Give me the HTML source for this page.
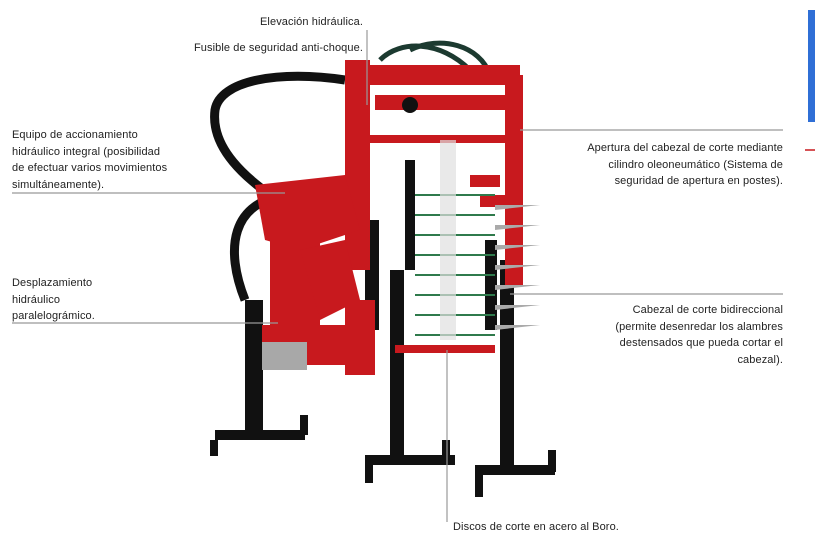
<!DOCTYPE html>
<html><head><meta charset="utf-8"><style>
body{margin:0;background:#fff;width:815px;height:556px;overflow:hidden;position:relative;font-family:"Liberation Sans",sans-serif;color:#222}
.t{position:absolute;font-size:11px;line-height:16.5px;letter-spacing:0.1px}
.r{text-align:right}
</style></head><body>
<svg width="815" height="556" style="position:absolute;left:0;top:0">
<!-- hoses -->
<path d="M345 80 C280 70 220 80 215 110 C210 150 250 180 270 195" stroke="#111" stroke-width="9" fill="none"/>
<path d="M290 195 C230 200 225 250 245 300" stroke="#111" stroke-width="9" fill="none"/>
<path d="M380 60 C400 40 440 40 470 70" stroke="#1c3a30" stroke-width="5" fill="none"/>
<path d="M410 50 C440 35 480 45 490 75" stroke="#1c3a30" stroke-width="5" fill="none"/>
<!-- stands -->
<g fill="#111">
<rect x="245" y="300" width="18" height="130"/><rect x="215" y="430" width="90" height="10"/><rect x="210" y="440" width="8" height="16"/><rect x="300" y="415" width="8" height="20"/>
<rect x="390" y="270" width="14" height="190"/><rect x="365" y="455" width="90" height="10"/><rect x="365" y="465" width="8" height="18"/><rect x="442" y="440" width="8" height="20"/>
<rect x="500" y="260" width="14" height="210"/><rect x="475" y="465" width="80" height="10"/><rect x="475" y="475" width="8" height="22"/><rect x="548" y="450" width="8" height="22"/>
<rect x="365" y="220" width="14" height="110"/><rect x="405" y="160" width="10" height="110"/><rect x="485" y="240" width="12" height="90"/>
</g>
<!-- red structure -->
<g fill="#c8191e">
<rect x="345" y="60" width="25" height="210"/>
<rect x="370" y="65" width="150" height="20"/>
<rect x="505" y="75" width="18" height="210"/>
<rect x="375" y="95" width="135" height="15"/>
<rect x="355" y="135" width="165" height="8"/>
<polygon points="255,185 345,175 360,230 330,240 300,250 265,240"/>
<rect x="270" y="220" width="50" height="110"/>
<polygon points="300,250 345,240 360,300 320,320"/>
<rect x="262" y="325" width="112" height="40"/>
<rect x="345" y="300" width="30" height="75"/>
<rect x="470" y="175" width="30" height="12"/>
<rect x="480" y="195" width="40" height="12"/>
<rect x="395" y="345" width="100" height="8"/>
</g>
<rect x="262" y="342" width="45" height="28" fill="#a8a8a8"/>
<g stroke="#2f7a4c" stroke-width="2" fill="none">
<path d="M415 195h80M415 215h80M415 235h80M415 255h80M415 275h80M415 295h80M415 315h80M415 335h80"/>
</g>
<g fill="#aaa">
<polygon points="495,205 540,205 495,210"/><polygon points="495,225 540,225 495,230"/><polygon points="495,245 540,245 495,250"/><polygon points="495,265 540,265 495,270"/><polygon points="495,285 540,285 495,290"/><polygon points="495,305 540,305 495,310"/><polygon points="495,325 540,325 495,330"/>
</g>
<rect x="440" y="140" width="16" height="200" fill="#e0e0e0" opacity="0.7"/>
<circle cx="410" cy="105" r="8" fill="#111"/>
<!-- leader lines -->
<g stroke="#999" stroke-width="1.2" fill="none">
<line x1="12" y1="193" x2="285" y2="193"/>
<line x1="12" y1="323" x2="278" y2="323"/>
<line x1="520" y1="130" x2="783" y2="130"/>
<line x1="510" y1="294" x2="783" y2="294"/>
<line x1="447" y1="350" x2="447" y2="522"/>
<line x1="367" y1="30" x2="367" y2="105"/>
</g>
<rect x="808" y="10" width="7" height="112" fill="#2f6fd6"/>
<line x1="805" y1="150" x2="815" y2="150" stroke="#c8191e" stroke-width="1.5"/>
</svg>
<div class="t r" style="right:452px;top:14px">Elevación hidráulica.</div>
<div class="t r" style="right:452px;top:40px">Fusible de seguridad anti-choque.</div>
<div class="t" style="left:12px;top:127px">Equipo de accionamiento<br>hidráulico integral (posibilidad<br>de efectuar varios movimientos<br>simultáneamente).</div>
<div class="t" style="left:12px;top:275px">Desplazamiento<br>hidráulico<br>paralelográmico.</div>
<div class="t r" style="right:32px;top:140px">Apertura del cabezal de corte mediante<br>cilindro oleoneumático (Sistema de<br>seguridad de apertura en postes).</div>
<div class="t r" style="right:32px;top:302px">Cabezal de corte bidireccional<br>(permite desenredar los alambres<br>destensados que pueda cortar el<br>cabezal).</div>
<div class="t" style="left:453px;top:519px">Discos de corte en acero al Boro.</div>
</body></html>
